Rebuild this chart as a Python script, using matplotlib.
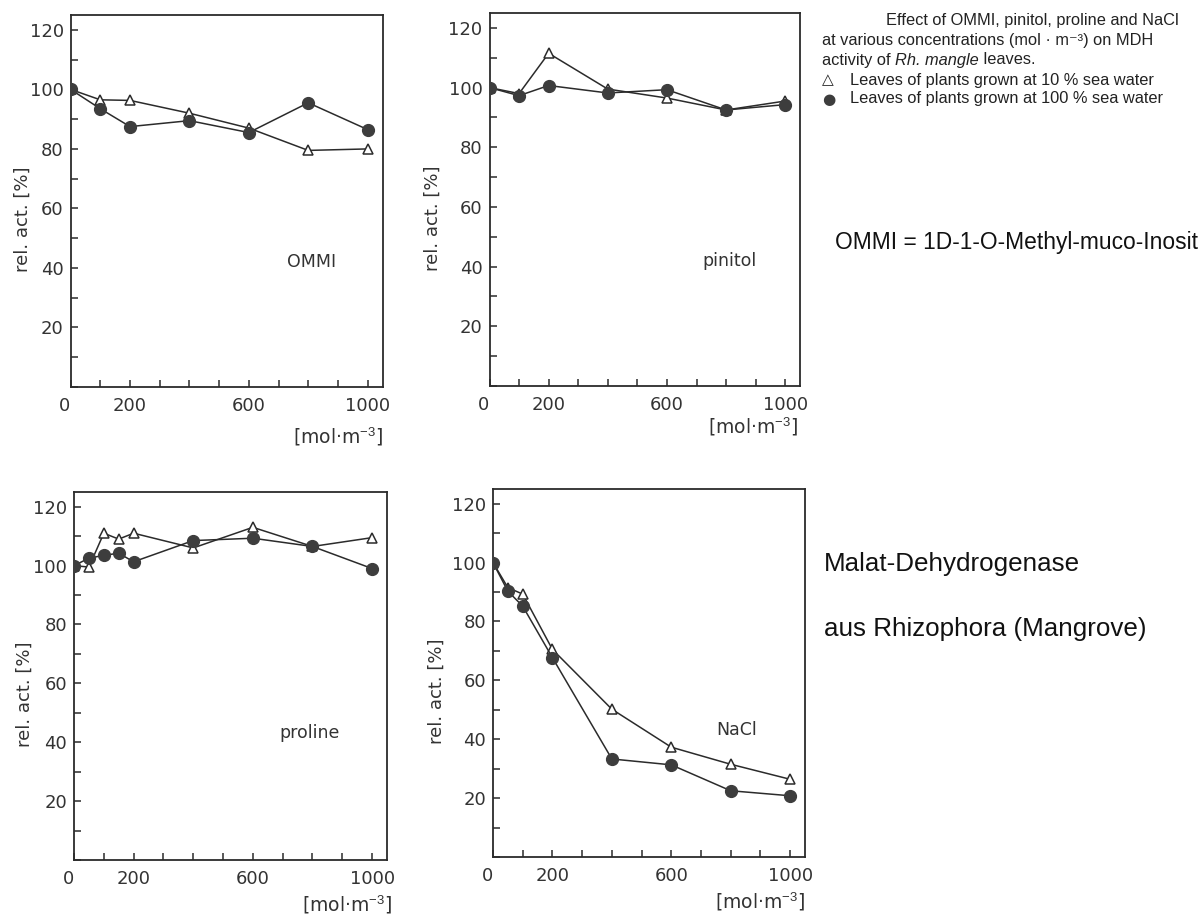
"""Recreate the MDH relative activity panels (Rhizophora mangle)."""

import matplotlib

matplotlib.use("Agg")
import matplotlib.pyplot as plt
from matplotlib.text import Annotation
from matplotlib.ticker import MultipleLocator

W, H = 1203, 916

# concentrations [mol m-3] and relative activity [%]
ommi_x = [0, 100, 200, 400, 600, 800, 1000]
ommi_10 = [100, 96.5, 96.3, 92.0, 87.0, 79.5, 80.0]
ommi_100 = [100, 93.5, 87.5, 89.5, 85.5, 95.5, 86.5]

pinitol_x = [0, 100, 200, 400, 600, 800, 1000]
pinitol_10 = [100, 98.0, 111.5, 99.5, 96.5, 92.5, 95.5]
pinitol_100 = [100, 97.3, 100.7, 98.2, 99.3, 92.5, 94.3]

proline_x = [0, 50, 100, 150, 200, 400, 600, 800, 1000]
proline_10 = [100, 99.5, 111.0, 109.0, 111.0, 106.0, 113.0, 106.5, 109.5]
proline_100 = [100, 102.5, 103.5, 104.2, 101.3, 108.5, 109.3, 106.5, 99.0]

nacl_x = [0, 50, 100, 200, 400, 600, 800, 1000]
nacl_10 = [100, 91.5, 89.3, 70.5, 50.2, 37.3, 31.5, 26.4]
nacl_100 = [100, 90.3, 85.2, 67.7, 33.3, 31.3, 22.5, 20.8]

panel_names = ["OMMI", "pinitol", "proline", "NaCl"]
x_ticks = list(range(0, 1001, 100))
x_tick_labels = ["0", "", "200", "", "", "", "600", "", "", "", "1000"]
y_ticks = [20, 40, 60, 80, 100, 120]
y_tick_labels = ["20", "40", "60", "80", "100", "120"]

INK = "#2b2b2b"

plt.rcParams["font.family"] = ["DejaVu Sans"]
plt.rcParams["mathtext.fontset"] = "custom"
plt.rcParams["mathtext.rm"] = "Liberation Sans"
plt.rcParams["mathtext.it"] = "Liberation Sans:italic"


def px_rect(left, top, right, bottom):
    return [left / W, 1 - bottom / H, (right - left) / W, (bottom - top) / H]


def draw_panel(ax, x, tri, circ, name, name_pos, ylab_x, unit_xy):
    ax.plot(x, tri, color=INK, lw=1.1, marker="^", ms=7.5, mfc="white",
            mec=INK, mew=1.1, zorder=3)
    ax.plot(x, circ, color=INK, lw=1.1, marker="o", ms=8.5, mfc="#3d3d3d",
            mec="#3d3d3d", zorder=4)
    ax.set_xlim(0, 1050)
    ax.set_ylim(0, 125)
    ax.set_xticks(x_ticks, x_tick_labels)
    ax.set_yticks(y_ticks, y_tick_labels)
    ax.yaxis.set_minor_locator(MultipleLocator(10))
    ax.tick_params(which="both", direction="in", length=5, width=1.1,
                   color=INK, labelsize=13, labelcolor="#333333")
    ax.tick_params(axis="x", pad=7)
    ax.tick_params(axis="y", pad=5)
    ax.get_xticklabels()[0].set_ha("right")
    for spine in ax.spines.values():
        spine.set_color(INK)
        spine.set_linewidth(1.3)
    ax.text(*name_pos, name, fontsize=12.5, color="#333333",
            ha="center", va="center")
    ax.text(ylab_x, 0.45, "rel. act. [%]", rotation=90, fontsize=13,
            color="#333333", ha="center", va="center", transform=ax.transAxes)
    ax.text(*unit_xy, "[mol·m$^{-3}$]", fontsize=13.5, color="#333333",
            ha="center", va="center", transform=ax.transAxes)


fig = plt.figure(figsize=(W / 100, H / 100), dpi=100)

ax1 = fig.add_axes(px_rect(70.6, 15, 382.5, 387))
draw_panel(ax1, ommi_x, ommi_10, ommi_100, panel_names[0], (810, 42),
           -0.153, (0.857, -0.134))

ax2 = fig.add_axes(px_rect(489.5, 13, 800, 386))
draw_panel(ax2, pinitol_x, pinitol_10, pinitol_100, panel_names[1], (810, 42),
           -0.182, (0.849, -0.11))

ax3 = fig.add_axes(px_rect(74, 492, 387, 860))
draw_panel(ax3, proline_x, proline_10, proline_100, panel_names[2], (790, 43),
           -0.157, (0.872, -0.122))

ax4 = fig.add_axes(px_rect(493, 489, 805, 857))
draw_panel(ax4, nacl_x, nacl_10, nacl_100, panel_names[3], (820, 43),
           -0.179, (0.856, -0.122))


def fig_text(px, py, s, **kw):
    return fig.text(px / W, 1 - py / H, s, va="center", ha="left", **kw)


caption = dict(fontsize=11.8, color="#222222",
               family=["Liberation Sans", "DejaVu Sans"])
fig_text(886, 21, "Effect of OMMI, pinitol, proline and NaCl", **caption)
fig_text(822, 41, "at various concentrations (mol · m⁻³) on MDH", **caption)

# third line: roman / italic / roman pieces chained on one baseline
base_y = 1 - 64.5 / H
prev = fig.text(822 / W, base_y, "activity of ", va="baseline", **caption)
for piece, style in [("Rh. mangle", "italic"), (" leaves.", "normal")]:
    prev = fig.add_artist(Annotation(
        piece, xy=(1, base_y), xycoords=(prev, "figure fraction"),
        va="baseline", ha="left", style=style, **caption))

fig_text(822, 80, "△", fontsize=11, color="#222222")
fig_text(850, 80, "Leaves of plants grown at 10 % sea water", **caption)
fig_text(822, 99, "●", fontsize=11, color="#3d3d3d")
fig_text(850, 99, "Leaves of plants grown at 100 % sea water", **caption)

big = dict(color="#111111", family=["Liberation Sans", "DejaVu Sans"])
fig_text(835, 243, "OMMI = 1D-1-O-Methyl-muco-Inosit", fontsize=16.4, **big)
fig_text(824, 564, "Malat-Dehydrogenase", fontsize=18.7, **big)
fig_text(824, 629, "aus Rhizophora (Mangrove)", fontsize=18.7, **big)

fig.savefig("out.png", dpi=100, facecolor="white")
